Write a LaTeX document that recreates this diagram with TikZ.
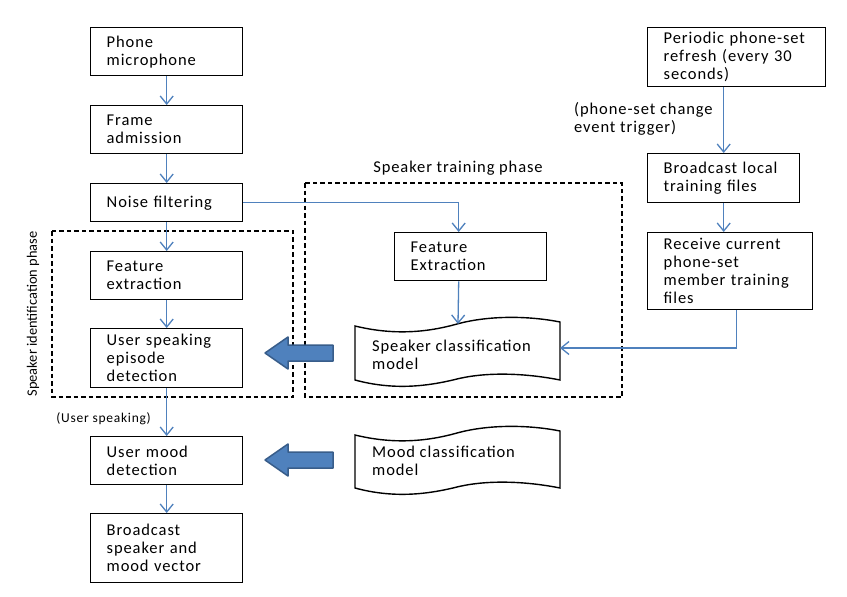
\documentclass[tikz,border=0pt]{standalone}
\usepackage{fontspec}
\setmainfont{Carlito}[LetterSpace=5.5]
\newfontfamily\plainfont{Carlito}
\usetikzlibrary{arrows.meta,calc}
\definecolor{lnblue}{HTML}{4F81BD}
\definecolor{arrborder}{HTML}{385D8A}
\newcommand{\boxfont}{\fontsize{16.5}{18}\selectfont}
\newcommand{\smallfont}{\fontsize{13.5}{15}\selectfont}
\newcommand{\rotfont}{\plainfont\fontsize{14.4}{16}\selectfont}
\tikzset{
  box/.style={draw, line width=1.4pt, inner xsep=16pt, inner ysep=0pt, align=left,
              font=\boxfont, anchor=north west},
  conn/.style={draw=lnblue, line width=1.3pt, -{Straight Barb[length=8pt,width=13pt,line width=1.3pt]}},
  dashedbox/.style={draw, line width=1.3pt, dash pattern=on 4.5pt off 3pt},
  bigarr/.style={fill=lnblue, draw=arrborder, line width=1.5pt, line join=round},
  lbl/.style={inner sep=0pt, font=\boxfont, align=left},
  tape/.style={draw, line width=1.4pt, fill=white}
}
\begin{document}
\exhyphenpenalty=10000 \hyphenpenalty=10000
\begin{tikzpicture}[x=1pt,y=-1pt]
\useasboundingbox[fill=white] (0,0) rectangle (847,597);

% dashed phase boxes
\draw[dashedbox] (52,231) rectangle (293,397);
\draw[dashedbox] (305,183) rectangle (622,397);
\node[inner sep=0pt, font=\rotfont, rotate=90] (sip) at (33,314) {Speaker identification phase};
\node[lbl] (stp) at (458,168) {Speaker training phase};

% left column
\node[box, text width=120pt, minimum height=48pt] (pm) at (90,27) {Phone\\microphone};
\node[box, text width=120pt, minimum height=48pt] (fa) at (90,105) {Frame\\admission};
\node[box, text width=120pt, minimum height=38pt] (nf) at (90,183) {Noise~filtering};
\node[box, text width=120pt, minimum height=48pt] (fe) at (90,251) {Feature\\extraction};
\node[box, text width=120pt, minimum height=59pt] (us) at (90,328) {User~speaking\\episode\\detection};
\node[box, text width=120pt, minimum height=48pt] (um) at (90,436) {User~mood\\detection};
\node[box, text width=120pt, minimum height=69pt] (bc) at (90,513) {Broadcast\\speaker~and\\mood~vector};

% right column
\node[box, text width=146pt, minimum height=59pt] (pr) at (647,27) {Periodic~phone-set\\refresh~(every~30\\seconds)};
\node[box, text width=120pt, minimum height=49pt] (bl) at (647,153) {Broadcast~local\\training~files};
\node[box, text width=133pt, minimum height=77pt] (rc) at (647,232) {Receive~current\\phone-set\\member~training\\files};
\node[lbl, anchor=west] (trig) at (574,119) {(phone-set~change\\event~trigger)};

% training
\node[box, text width=120pt, minimum height=48pt] (fe2) at (394,232) {Feature\\Extraction};

% speaker classification model (punched tape)
\draw[tape] (355,326) .. controls (392,335) and (425,333) .. (457,324)
  .. controls (490,315) and (530,316) .. (560,322) -- (560,380)
  .. controls (530,374) and (490,371) .. (457,379)
  .. controls (425,387) and (392,390) .. (355,380) -- cycle;
\node[lbl, anchor=west] (scm) at (372,355) {Speaker~classification\\model};
\coordinate (scmt) at (458,324);
\coordinate (scmr) at (560,348);

% mood classification model
\draw[tape] (355,435) .. controls (392,444) and (425,442) .. (457,433)
  .. controls (490,424) and (530,425) .. (560,431) -- (560,488)
  .. controls (530,482) and (490,479) .. (457,487)
  .. controls (425,495) and (392,498) .. (355,488) -- cycle;
\node[lbl, anchor=west] (mcm) at (372,461) {Mood~classification\\model};

% big arrows
\draw[bigarr] (265,353) -- (288,337) -- (288,345) -- (333,345) -- (333,361) -- (288,361) -- (288,369) -- cycle;
\draw[bigarr] (265,460) -- (288,444) -- (288,452) -- (333,452) -- (333,468) -- (288,468) -- (288,476) -- cycle;

% connectors
\draw[conn] (pm.south) -- (fa.north);
\draw[conn] (fa.south) -- (nf.north);
\draw[conn] (nf.south) -- (fe.north);
\draw[conn] (fe.south) -- (us.north);
\draw[conn] (us.south) -- (um.north);
\draw[conn] (um.south) -- (bc.north);
\node[inner sep=0pt, font=\smallfont, anchor=east] (usp) at (151,419) {(User speaking)};

\draw[conn] (nf.east) -| ([xshift=-12pt]fe2.north);
\draw[conn] ([xshift=-12pt]fe2.south) -- (scmt);

\draw[conn] (pr.south -| bl.north) -- (bl.north);
\draw[conn] (bl.south) -- (bl.south |- rc.north);
\draw[conn] ([xshift=6.5pt]rc.south) |- (scmr);
\end{tikzpicture}
\end{document}
